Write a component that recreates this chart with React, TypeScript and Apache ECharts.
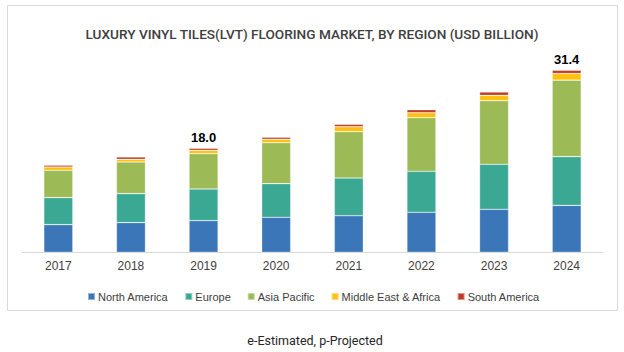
import React, { useEffect, useRef } from "react";
import * as echarts from "echarts";

const years = ["2017", "2018", "2019", "2020", "2021", "2022", "2023", "2024"];
const northAmerica = [4.78, 5.12, 5.47, 6.04, 6.31, 6.9, 7.42, 8.1];
const europe = [4.66, 5.0, 5.45, 5.8, 6.5, 7.07, 7.76, 8.4];
const asiaPacific = [4.71, 5.45, 6.1, 7.07, 8.0, 9.25, 10.97, 13.2];
const middleEastAfrica = [0.57, 0.46, 0.57, 0.59, 0.86, 0.86, 0.93, 1.15];
const southAmerica = [0.29, 0.4, 0.35, 0.35, 0.41, 0.52, 0.57, 0.55];
const totalLabels = ["", "", "18.0", "", "", "", "", "31.4"];

const seriesNames = ["North America", "Europe", "Asia Pacific", "Middle East & Africa", "South America"];
const seriesColors = ["#3B77B8", "#3BA893", "#9CBB56", "#FFC10F", "#BE3A28"];

export default function App() {
  const ref = useRef<HTMLDivElement>(null);
  useEffect(() => {
    if (!ref.current) return;
    const chart = echarts.init(ref.current, undefined, { renderer: "svg" });
    const datasets = [northAmerica, europe, asiaPacific, middleEastAfrica, southAmerica];
    const series = datasets.map((d, i) => ({
      name: seriesNames[i],
      type: "bar" as const,
      stack: "total",
      barWidth: 29,
      data: d,
      itemStyle: { color: seriesColors[i], borderColor: "rgba(255,255,255,0.45)", borderWidth: 0.6 },
      label:
        i === datasets.length - 1
          ? {
              show: true,
              position: "top" as const,
              distance: 4,
              formatter: (p: any) => totalLabels[p.dataIndex],
              color: "#000000",
              fontFamily: "Liberation Sans",
              fontWeight: "bold" as const,
              fontSize: 13,
            }
          : { show: false },
    }));
    chart.setOption({
      animation: false,
      color: seriesColors,
      title: {
        text: "LUXURY VINYL TILES(LVT) FLOORING MARKET, BY REGION (USD BILLION)",
        left: "center",
        top: 22,
        textStyle: { fontFamily: "Roboto", fontSize: 13.6, fontWeight: 500, color: "#404040" },
      },
      graphic: [
        {
          type: "rect",
          shape: { x: 7.5, y: 5.5, width: 610, height: 305 },
          style: { fill: "none", stroke: "#d9d9d9", lineWidth: 1 },
          silent: true,
          z: -1,
        },
        {
          type: "text",
          x: 315,
          y: 340,
          style: {
            text: "e-Estimated, p-Projected",
            fill: "#262626",
            font: "12.5px Roboto",
            textAlign: "center",
            textVerticalAlign: "middle",
          },
        },
      ],
      legend: {
        data: seriesNames,
        left: 82,
        top: 286,
        icon: "rect",
        itemWidth: 7,
        itemHeight: 7,
        itemGap: 16,
        textStyle: { fontFamily: "Liberation Sans", fontSize: 11, color: "#404040", padding: [0, 0, 0, -2] },
      },
      grid: { left: 22, right: 21, top: 49.4, bottom: 99.7 },
      xAxis: {
        type: "category",
        data: years,
        axisLine: { lineStyle: { color: "#d9d9d9", width: 1 } },
        axisTick: { show: false },
        axisLabel: { color: "#404040", fontFamily: "Liberation Sans", fontSize: 12, margin: 8 },
      },
      yAxis: {
        type: "value",
        min: 0,
        max: 35,
        show: false,
        splitLine: { show: false },
      },
      series,
    });
    return () => chart.dispose();
  }, []);
  return (
    <div
      ref={ref}
      style={{ position: "fixed", left: 0, top: 0, width: 624, height: 352, background: "#ffffff" }}
    />
  );
}
